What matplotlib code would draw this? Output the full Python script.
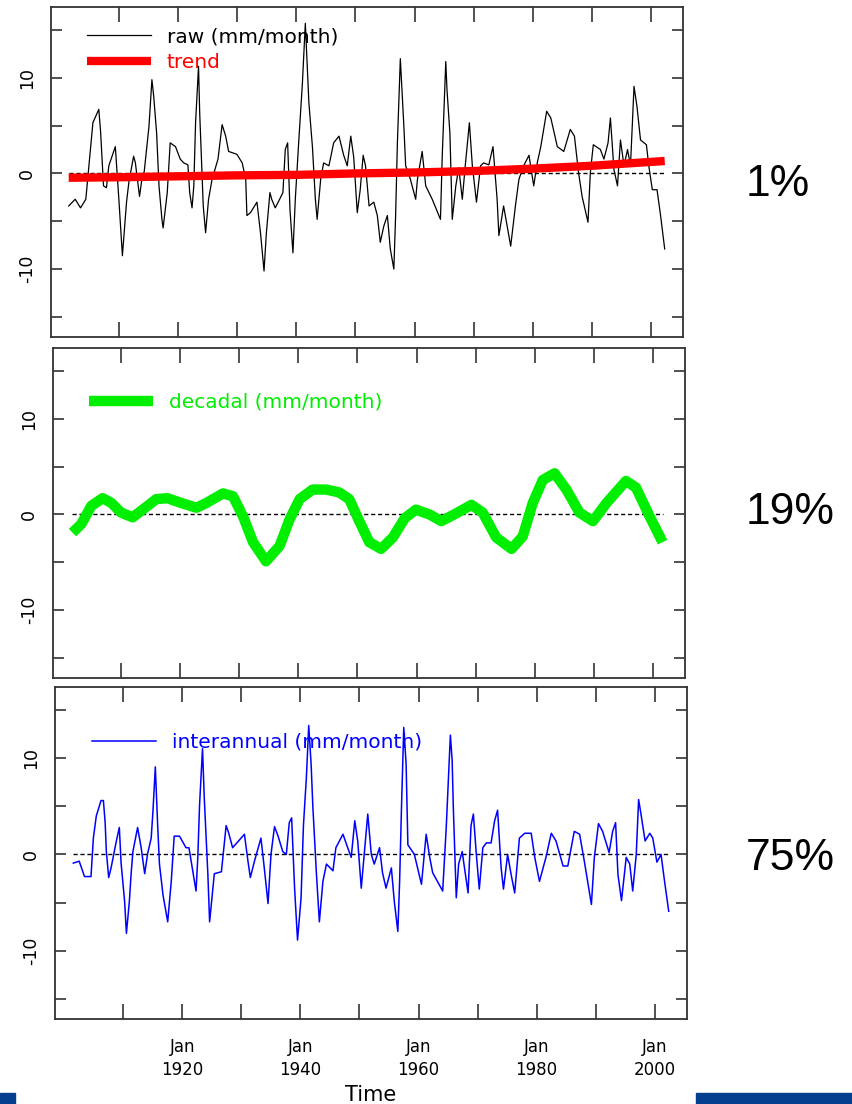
import numpy as np
import matplotlib
matplotlib.use("Agg")
import matplotlib.pyplot as plt
from matplotlib.patches import Rectangle

plt.rcParams['font.family'] = ['DejaVu Sans']

# raw monthly anomaly (mm/month)
raw_year = [1901.4, 1902.5, 1903.4, 1904.3, 1905.0, 1905.5, 1906.5, 1906.8, 1907.3, 1907.8,
            1908.2, 1909.3, 1909.9, 1910.5, 1911.2, 1911.6, 1912.4, 1912.7, 1913.4, 1913.8,
            1914.2, 1915.0, 1915.5, 1915.8, 1916.3, 1916.7, 1917.2, 1917.4, 1918.1, 1918.6,
            1919.5, 1920.3, 1920.9, 1921.6, 1921.9, 1922.3, 1922.6, 1922.9, 1923.4, 1923.6,
            1924.2, 1924.6, 1925.1, 1925.7, 1926.7, 1927.4, 1928.0, 1928.5, 1929.9, 1930.8,
            1931.4, 1931.6, 1932.2, 1933.3, 1933.9, 1934.5, 1934.9, 1935.5, 1935.8, 1936.4,
            1936.9, 1937.7, 1938.1, 1938.5, 1938.9, 1939.4, 1939.8, 1940.4, 1941.0, 1941.5,
            1942.1, 1942.7, 1943.2, 1943.5, 1944.1, 1944.6, 1945.5, 1946.3, 1947.2, 1948.0,
            1948.6, 1949.2, 1949.7, 1950.3, 1950.8, 1951.3, 1951.7, 1952.3, 1953.1, 1953.7,
            1954.2, 1954.8, 1955.4, 1955.9, 1956.5, 1956.8, 1957.1, 1957.6, 1958.2, 1958.5,
            1959.3, 1960.2, 1960.5, 1961.3, 1961.9, 1963.0, 1964.4, 1964.7, 1965.3, 1965.5,
            1966.0, 1966.4, 1967.0, 1967.5, 1968.1, 1968.6, 1969.3, 1969.8, 1970.5, 1971.2,
            1971.7, 1972.6, 1973.3, 1974.0, 1974.3, 1975.1, 1976.3, 1977.1, 1977.7, 1978.5,
            1979.4, 1980.2, 1980.8, 1981.4, 1982.4, 1983.1, 1984.2, 1985.3, 1986.4, 1987.1,
            1987.8, 1988.4, 1989.4, 1989.8, 1990.3, 1991.5, 1992.1, 1992.8, 1993.2, 1993.8,
            1994.4, 1994.9, 1995.5, 1996.1, 1996.6, 1997.2, 1997.7, 1998.3, 1999.3, 1999.7,
            2000.3, 2001.1, 2001.7, 2002.4]
raw_val = [-3.4, -2.7, -3.6, -2.7, 2.0, 5.3, 6.7, 4.4, -1.3, -1.5,
           0.8, 2.8, -2.7, -8.6, -3.0, -0.9, 1.8, 1.1, -2.4, -0.6,
           0.2, 4.9, 9.8, 8.1, 4.2, -1.3, -4.8, -5.7, -2.0, 3.2,
           2.8, 1.5, 1.1, 0.9, -2.0, -3.6, -1.3, 5.3, 11.2, 6.3,
           -3.4, -6.2, -2.7, -0.6, 1.5, 5.1, 3.9, 2.3, 2.0, 1.1,
           -0.6, -4.4, -4.1, -3.0, -6.2, -10.2, -6.2, -2.0, -2.7, -3.6,
           -3.0, -2.0, 2.5, 3.2, -3.8, -8.3, -2.7, 3.5, 9.4, 15.7,
           7.4, 2.8, -2.7, -4.8, -0.6, 1.1, 0.8, 3.2, 3.9, 1.9,
           0.8, 3.9, 1.7, -4.1, -1.7, 1.9, 0.8, -3.4, -3.0, -4.4,
           -7.2, -5.5, -4.4, -7.9, -10.0, -4.4, 3.2, 12.0, 4.9, 0.8,
           -0.6, -2.7, -0.6, 2.3, -1.3, -2.7, -4.8, 1.8, 11.7, 8.8,
           4.2, -4.8, -1.3, 0.6, -2.7, 0.8, 5.3, 0.8, -3.0, 0.8,
           1.1, 0.9, 2.8, -2.7, -6.5, -3.4, -7.6, -3.4, -0.6, 0.8,
           1.9, -1.3, 1.1, 2.8, 6.5, 5.8, 2.8, 2.3, 4.6, 3.9,
           0.1, -2.4, -5.1, 0.1, 3.0, 2.5, 1.5, 3.2, 5.8, 0.4,
           -1.3, 3.5, 0.8, 2.5, 0.8, 9.1, 7.0, 3.5, 3.0, 0.8,
           -1.7, -1.7, -4.4, -7.9]

# long term trend
trend_year = [1901.4, 1910, 1920, 1930, 1940, 1950, 1960, 1970, 1980, 1990, 2002.4]
trend_val = [-0.45, -0.4, -0.3, -0.2, -0.15, 0.0, 0.1, 0.25, 0.5, 0.8, 1.3]

# decadal component
dec_year = [1901.7, 1903.2, 1904.9, 1906.8, 1908.3, 1909.9, 1911.9, 1913.6, 1915.9, 1917.8,
            1920.1, 1922.7, 1924.4, 1927.2, 1928.9, 1930.6, 1932.3, 1934.5, 1936.8, 1938.5,
            1940.2, 1942.4, 1944.7, 1946.9, 1948.6, 1950.3, 1952.0, 1954.0, 1956.0, 1958.0,
            1959.9, 1962.2, 1964.2, 1966.4, 1969.3, 1971.2, 1973.5, 1976.1, 1978.0, 1979.7,
            1981.4, 1983.4, 1985.4, 1987.6, 1989.9, 1992.2, 1995.5, 1997.2, 1999.5, 2001.7]
dec_val = [-1.9, -1.0, 0.9, 1.7, 1.2, 0.2, -0.3, 0.5, 1.6, 1.7,
           1.2, 0.7, 1.2, 2.2, 1.9, -0.2, -2.9, -4.9, -3.3, -0.5,
           1.6, 2.6, 2.6, 2.3, 1.6, -0.7, -2.9, -3.6, -2.4, -0.4,
           0.5, 0.0, -0.7, 0.0, 1.0, 0.2, -2.4, -3.6, -2.3, 1.2,
           3.6, 4.3, 2.6, 0.2, -0.7, 1.2, 3.5, 2.8, -0.2, -2.9]

# interannual component
int_year = [1901.5, 1902.5, 1903.4, 1904.5, 1904.9, 1905.4, 1906.2, 1906.6, 1906.9, 1907.1,
            1907.5, 1907.9, 1908.8, 1909.3, 1909.6, 1910.2, 1910.5, 1911.0, 1911.3, 1911.6,
            1912.4, 1913.0, 1913.6, 1914.1, 1914.7, 1915.0, 1915.4, 1915.8, 1916.1, 1916.7,
            1917.5, 1918.1, 1918.6, 1919.5, 1920.6, 1921.1, 1922.3, 1922.6, 1922.9, 1923.4,
            1923.7, 1924.3, 1924.6, 1925.4, 1926.6, 1927.4, 1927.8, 1928.5, 1930.5, 1931.1,
            1931.5, 1932.2, 1933.3, 1933.9, 1934.5, 1935.0, 1935.6, 1936.2, 1937.0, 1937.6,
            1938.1, 1938.5, 1939.0, 1939.5, 1940.1, 1940.5, 1941.0, 1941.4, 1941.8, 1942.1,
            1942.7, 1943.2, 1943.8, 1944.4, 1945.5, 1946.0, 1947.2, 1948.0, 1948.6, 1949.2,
            1949.7, 1950.3, 1950.8, 1951.4, 1952.0, 1952.5, 1953.4, 1953.9, 1954.5, 1955.4,
            1955.9, 1956.5, 1956.8, 1957.1, 1957.5, 1957.9, 1958.2, 1959.3, 1960.5, 1961.3,
            1961.9, 1962.4, 1964.1, 1964.7, 1965.4, 1965.7, 1965.9, 1966.4, 1966.8, 1967.4,
            1967.8, 1968.4, 1968.9, 1969.3, 1969.8, 1970.3, 1970.9, 1971.5, 1972.3, 1972.9,
            1973.4, 1974.0, 1974.4, 1975.1, 1975.7, 1976.3, 1977.1, 1978.0, 1979.1, 1979.7,
            1980.5, 1981.6, 1982.5, 1983.3, 1984.5, 1985.3, 1986.4, 1987.3, 1988.1, 1989.3,
            1989.8, 1990.5, 1991.2, 1992.3, 1992.9, 1993.4, 1993.8, 1994.4, 1995.2, 1995.8,
            1996.3, 1996.9, 1997.3, 1997.7, 1998.4, 1999.2, 1999.7, 2000.4, 2001.1, 2001.7,
            2002.4]
int_val = [-0.9, -0.7, -2.3, -2.3, 1.7, 4.0, 5.6, 5.6, 3.3, 0.3,
           -2.4, -1.4, 1.4, 2.8, -0.9, -4.9, -8.2, -4.9, -2.0, 0.3,
           2.8, 0.7, -2.0, 0.1, 1.7, 4.5, 9.1, 3.0, -1.0, -4.2,
           -7.0, -2.8, 1.9, 1.9, 0.7, 0.7, -3.8, -0.3, 5.2, 11.0,
           5.8, -2.0, -7.0, -2.0, -1.8, 3.0, 2.3, 0.7, 2.1, -0.7,
           -2.4, -0.7, 1.7, -1.6, -5.1, 0.0, 2.9, 1.9, 0.3, 0.0,
           3.3, 3.8, -3.5, -8.9, -4.5, 3.0, 8.0, 13.4, 9.4, 4.9,
           -2.0, -7.0, -2.8, -1.0, -1.7, 0.7, 2.1, 0.7, -0.3, 3.5,
           1.4, -3.5, 0.0, 4.2, 0.0, -1.0, 0.7, -1.9, -3.5, -1.4,
           -4.9, -8.0, -2.8, 4.5, 13.2, 9.4, 1.0, 0.0, -3.1, 2.1,
           -0.3, -1.9, -3.8, 2.8, 12.4, 9.8, 4.9, -4.5, -1.0, 0.3,
           -1.4, -4.0, 3.0, 4.2, 0.0, -3.6, 0.7, 1.2, 1.2, 3.5,
           4.6, -1.4, -3.6, 0.0, -2.1, -4.0, 1.7, 2.2, 2.2, -0.3,
           -2.8, -0.3, 2.2, 1.4, -1.2, -1.2, 2.4, 2.1, -0.7, -5.2,
           -0.3, 3.2, 2.4, 0.2, 2.4, 3.3, -2.1, -4.8, -0.3, -1.0,
           -3.8, 0.0, 5.7, 4.2, 1.4, 2.2, 1.7, -0.8, 0.0, -2.8,
           -5.9]

shares = ['1%', '19%', '75%']
share_y = [185, 513, 858]   # pixel rows of the labels on the slide
year_ticks = list(range(1910, 2001, 10))
y_ticks = [-15, -10, -5, 0, 5, 10, 15]

fig = plt.figure(figsize=(8.53, 11.04), dpi=100)
W, H = 853.0, 1104.0

def panel(l, t, r, b):
    return fig.add_axes([l / W, 1 - b / H, (r - l) / W, (b - t) / H])

axes = [panel(51, 7, 683, 337), panel(53, 348, 685, 678), panel(55, 687, 687, 1019)]

for i, ax in enumerate(axes):
    ax.set_xlim(1898.4, 2005.5)
    ax.set_ylim(-17.1, 17.4)
    ax.set_xticks(year_ticks)
    if i == 2:
        ax.set_xticklabels(['Jan\n%d' % y if y % 20 == 0 else '' for y in year_ticks],
                           linespacing=1.35)
    else:
        ax.set_xticklabels([])
    ax.set_yticks(y_ticks)
    ax.set_yticklabels(['%d' % v if v % 10 == 0 else '' for v in y_ticks],
                       rotation=90, va='center')
    ax.tick_params(axis='x', direction='in', length=11, width=1.2, color='#333333',
                   top=True, bottom=True, labelsize=12, pad=14)
    ax.tick_params(axis='y', direction='in', length=8, width=1.2, color='#333333',
                   left=True, right=True, labelsize=12.5, pad=11)
    for s in ax.spines.values():
        s.set_color('#333333')
        s.set_linewidth(1.3)

ax1, ax2, ax3 = axes

ax1.hlines(0, raw_year[0], raw_year[-1], colors='k', linestyles=(0, (3, 2)), lw=1, zorder=1)
ax1.plot(raw_year, raw_val, color='k', lw=0.9, label='raw (mm/month)', zorder=2)
ax1.plot(trend_year, trend_val, color='#ff0000', lw=6, label='trend', zorder=3,
         solid_capstyle='butt')
ax1.legend(loc='center left', bbox_to_anchor=(0.057, 0.87), frameon=False,
           fontsize=14.5, handlelength=3.2, handletextpad=0.75, labelspacing=0.35,
           borderpad=0, borderaxespad=0, labelcolor='linecolor')

ax2.hlines(0, dec_year[0], dec_year[-1], colors='k', linestyles=(0, (3, 2)), lw=1, zorder=1)
ax2.plot(dec_year, dec_val, color='#00ee00', lw=7.5, label='decadal (mm/month)', zorder=2,
         solid_capstyle='butt', solid_joinstyle='round')
ax2.legend(loc='center left', bbox_to_anchor=(0.057, 0.836), frameon=False,
           fontsize=14.5, handlelength=3.2, handletextpad=0.75,
           borderpad=0, borderaxespad=0, labelcolor='linecolor')

ax3.hlines(0, int_year[0], int_year[-1], colors='k', linestyles=(0, (3, 2)), lw=1, zorder=1)
ax3.plot(int_year, int_val, color='#0000ff', lw=1.1, label='interannual (mm/month)', zorder=2)
ax3.legend(loc='center left', bbox_to_anchor=(0.0585, 0.834), frameon=False,
           fontsize=14.5, handlelength=3.2, handletextpad=0.75,
           borderpad=0, borderaxespad=0, labelcolor='linecolor')
ax3.set_xlabel('Time', fontsize=15, labelpad=4)

# share of variance next to each panel
for s, yp in zip(shares, share_y):
    fig.text(746 / W, 1 - yp / H, s, fontsize=32, ha='left', va='center',
             family='Liberation Sans', color='black')

# slide decoration at the bottom edge
fig.patches.append(Rectangle((0, 0), 15 / W, 11 / H, transform=fig.transFigure,
                             color='#043e8f', zorder=0))
fig.patches.append(Rectangle((696 / W, 0), 157 / W, 11 / H, transform=fig.transFigure,
                             color='#043e8f', zorder=0))

fig.savefig('out.png', dpi=100)
